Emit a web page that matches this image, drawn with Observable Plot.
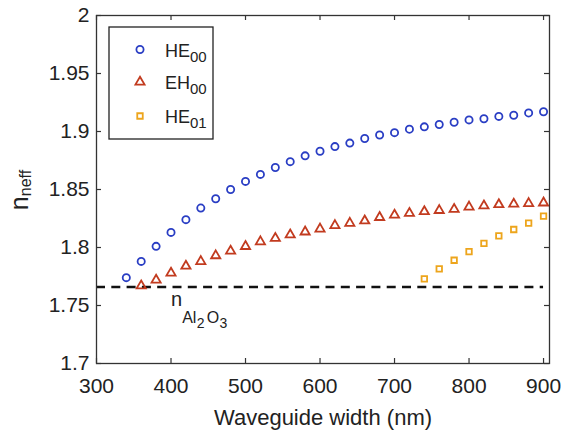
<!DOCTYPE html>
<html>
<head>
<meta charset="utf-8">
<script src="https://cdn.jsdelivr.net/npm/d3@7"></script>
<script src="https://cdn.jsdelivr.net/npm/@observablehq/plot@0.6"></script>
<style>
  html, body { margin: 0; padding: 0; background: #fff; }
  svg { font-family: "Liberation Sans", Arial, Helvetica, sans-serif; }
</style>
</head>
<body>
<div id="chart"></div>
<script>
// ---- data ----
const he00Width = [340,360,380,400,420,440,460,480,500,520,540,560,580,600,620,640,660,680,700,720,740,760,780,800,820,840,860,880,900];
const he00Neff  = [1.774,1.788,1.801,1.813,1.824,1.834,1.842,1.850,1.857,1.863,1.869,1.874,1.879,1.883,1.887,1.890,1.894,1.897,1.899,1.902,1.904,1.906,1.908,1.910,1.911,1.913,1.914,1.916,1.917];
const eh00Width = [360,380,400,420,440,460,480,500,520,540,560,580,600,620,640,660,680,700,720,740,760,780,800,820,840,860,880,900];
const eh00Neff  = [1.767,1.772,1.778,1.784,1.788,1.793,1.797,1.801,1.805,1.808,1.811,1.8135,1.816,1.819,1.821,1.823,1.826,1.828,1.8295,1.831,1.832,1.833,1.835,1.836,1.837,1.8375,1.838,1.8385];
const he01Width = [740,760,780,800,820,840,860,880,900];
const he01Neff  = [1.773,1.7815,1.789,1.7965,1.8035,1.810,1.8155,1.821,1.827];
const nAl2O3 = 1.766;
const xTicks = [300,400,500,600,700,800,900];
const xTickLabels = ["300","400","500","600","700","800","900"];
const yTicks = [1.7,1.75,1.8,1.85,1.9,1.95,2.0];
const yTickLabels = ["1.7","1.75","1.8","1.85","1.9","1.95","2"];
const seriesNames = ["HE", "EH", "HE"];
const seriesSubs = ["00", "00", "01"];
const xLabel = "Waveguide width (nm)";

const colors = ["#2a3ec4", "#c23b1f", "#eda51c"];
const symbols = ["circle", "triangle", "square"];
const radii = [3.6, 3.4, 3.1];

const toRows = (xs, ys) => xs.map((x, i) => ({x, y: ys[i]}));
const series = [toRows(he00Width, he00Neff), toRows(eh00Width, eh00Neff), toRows(he01Width, he01Neff)];

const W = 561, H = 433;
const mL = 96, mR = 12, mT = 15, mB = 70;
const fw = W - mL - mR, fh = H - mT - mB;
const tick = 5;
const ink = "#222";
const FONT = "'Liberation Sans', Arial, Helvetica, sans-serif";

const plot = Plot.plot({
  width: W, height: H,
  marginLeft: mL, marginRight: mR, marginTop: mT, marginBottom: mB,
  style: {fontSize: "21px", fontFamily: FONT, color: ink, background: "#fff"},
  x: {domain: [300, 908]},
  y: {domain: [1.7, 2.0]},
  marks: [
    Plot.axisX({ticks: xTicks, tickSize: 0, tickPadding: 15, label: null, tickFormat: (d) => xTickLabels[xTicks.indexOf(d)], fill: ink}),
    Plot.axisY({ticks: yTicks, tickSize: 0, tickPadding: 7, label: null, tickFormat: (d) => yTickLabels[yTicks.findIndex(t => Math.abs(t - d) < 1e-9)], fill: ink}),
    Plot.ruleY([nAl2O3], {y: d => d, x1: 300, x2: 900, stroke: "#111", strokeWidth: 2.4, strokeDasharray: "9,6.3"}),
    ...series.map((rows, i) => Plot.dot(rows, {x: "x", y: "y", r: radii[i], symbol: () => symbols[i], stroke: colors[i], strokeWidth: 1.8, fill: "none"})),
    Plot.frame({stroke: "#333", strokeWidth: 1.3}),
    Plot.tickX(xTicks, {x: d => d, insetTop: fh - tick, stroke: "#333", strokeWidth: 1.2}),
    Plot.tickX(xTicks, {x: d => d, insetBottom: fh - tick, stroke: "#333", strokeWidth: 1.2}),
    Plot.tickY(yTicks, {y: d => d, insetRight: fw - tick, stroke: "#333", strokeWidth: 1.2}),
    Plot.tickY(yTicks, {y: d => d, insetLeft: fw - tick, stroke: "#333", strokeWidth: 1.2}),
    Plot.text([nAl2O3], {x: 400, y: d => d, text: () => "nAl2O3", textAnchor: "start", lineAnchor: "bottom", dy: 18.6, fontSize: 20, fill: ink}),
    Plot.text([xLabel], {frameAnchor: "bottom", text: d => d, lineAnchor: "bottom", dy: 61, fontSize: 22, fill: ink})
  ]
});

document.getElementById("chart").appendChild(plot);
const svg = d3.select(plot);

// replace n_Al2O3 label with sub-scripted tspans
svg.selectAll("text").filter(function () { return this.textContent === "nAl2O3"; }).each(function () {
  const t = d3.select(this);
  t.text(null);
  t.append("tspan").attr("font-size", 20).text("n");
  t.append("tspan").attr("font-size", 16).attr("dy", 17).text("Al");
  t.append("tspan").attr("font-size", 14).attr("dy", 5).attr("dx", 0.5).text("2");
  t.append("tspan").attr("font-size", 16).attr("dy", -5).attr("dx", 2).text("O");
  t.append("tspan").attr("font-size", 14).attr("dy", 5).attr("dx", 0.5).text("3");
});

// y-axis label n_neff
const yl = svg.append("text")
  .attr("transform", "translate(28,190) rotate(-90)")
  .attr("text-anchor", "middle")
  .attr("fill", ink)
  .attr("font-family", FONT);
yl.append("tspan").attr("font-size", 25).text("n");
yl.append("tspan").attr("font-size", 16).attr("dy", 3).text("neff");

// legend
const lg = svg.append("g").attr("font-family", FONT).attr("text-anchor", "start");
lg.append("rect").attr("x", 109).attr("y", 27).attr("width", 104).attr("height", 112)
  .attr("fill", "#fff").attr("stroke", "#222").attr("stroke-width", 1.3);
const baselines = [56.5, 89, 123];
const symTypes = [d3.symbolCircle, d3.symbolTriangle, d3.symbolSquare];
seriesNames.forEach((name, i) => {
  const sy = baselines[i] - 7;
  lg.append("path")
    .attr("d", d3.symbol(symTypes[i], Math.PI * radii[i] * radii[i])())
    .attr("transform", `translate(140,${sy})`)
    .attr("fill", "none").attr("stroke", colors[i]).attr("stroke-width", 1.8);
  const t = lg.append("text").attr("x", 165).attr("y", baselines[i]).attr("fill", ink).attr("text-anchor", "start");
  t.append("tspan").attr("font-size", 18).text(name);
  t.append("tspan").attr("font-size", 15).attr("dy", 5).text(seriesSubs[i]);
});
</script>
</body>
</html>
